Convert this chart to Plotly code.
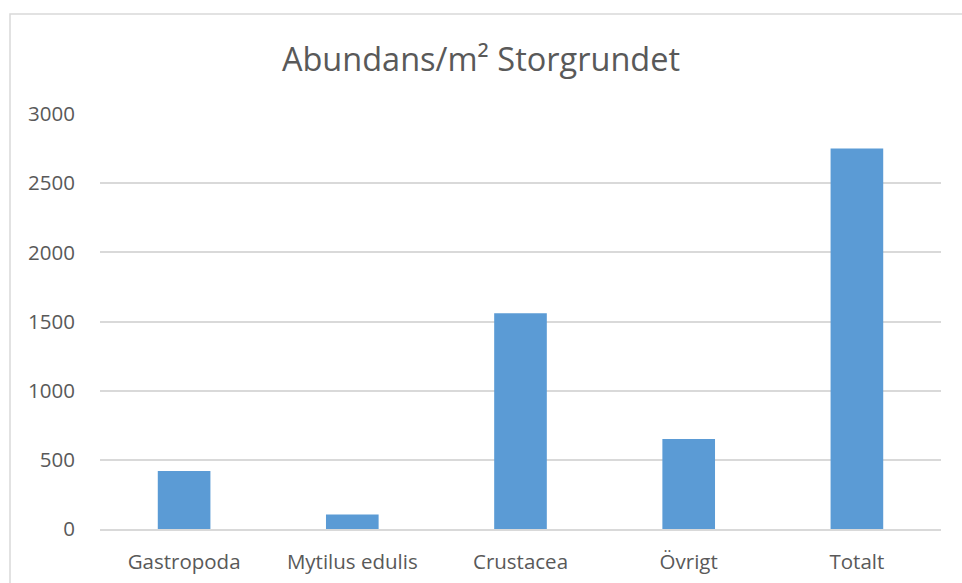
import plotly.graph_objects as go

categories = ["Gastropoda", "Mytilus edulis", "Crustacea", "Övrigt", "Totalt"]
abundans = [420, 105, 1560, 650, 2750]
y_ticks = [0, 500, 1000, 1500, 2000, 2500, 3000]

bar_color = "#5B9BD5"
text_color = "#595959"
grid_color = "#D9D9D9"
font_name = "Open Sans"

fig = go.Figure()
fig.add_trace(go.Bar(x=categories, y=abundans, marker_color=bar_color,
                     marker_line_width=0))

# plot area: x 100..941, y 114..529 in pixels
W, H = 962, 583
L, R, T, B = 100, 21, 114, 54
pw, ph = W - L - R, H - T - B

def px_x(p):
    return (p - L) / pw

def px_y(p):
    return (H - B - p) / ph

fig.update_layout(
    width=W, height=H,
    margin=dict(l=L, r=R, t=T, b=B),
    paper_bgcolor="white", plot_bgcolor="white",
    bargap=0.687,
    showlegend=False,
    font=dict(family=font_name, color=text_color, size=20),
    title=dict(text="Abundans/m² Storgrundet", x=0.5, xanchor="center",
               y=1 - 60 / H, yanchor="middle",
               font=dict(family=font_name, size=32.5, color=text_color)),
)
fig.update_yaxes(range=[0, 3000], tickvals=y_ticks, showgrid=True,
                 gridcolor=grid_color, gridwidth=1.5, zeroline=False,
                 showline=False, ticks="", ticklabelstandoff=24,
                 automargin=False,
                 tickfont=dict(size=20.5, color=text_color))
fig.update_xaxes(showgrid=False, showline=True, linecolor=grid_color,
                 linewidth=1.5, ticks="", ticklabelstandoff=14,
                 automargin=False,
                 tickfont=dict(size=20.5, color=text_color))

# outer chart border (partly cut off at right and bottom)
fig.add_shape(type="rect", xref="paper", yref="paper",
              x0=px_x(10), x1=px_x(975), y0=px_y(600), y1=px_y(14),
              line=dict(color=grid_color, width=1.5), layer="below")

fig.write_html("out.html", config={"displayModeBar": False},
               post_script="document.body.style.margin='0';")
